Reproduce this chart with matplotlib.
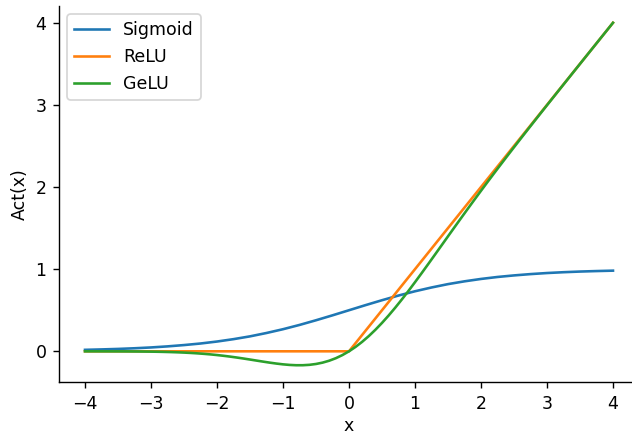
import matplotlib
matplotlib.use('Agg')
import matplotlib.pyplot as plt

# values
x_sigmoid = [-4.0, -3.75, -3.5, -3.25, -3.0, -2.75, -2.5, -2.25, -2.0, -1.75,
             -1.5, -1.25, -1.0, -0.75, -0.5, -0.25, 0.0, 0.25, 0.5, 0.75, 1.0,
             1.25, 1.5, 1.75, 2.0, 2.25, 2.5, 2.75, 3.0, 3.25, 3.5, 3.75, 4.0]
sigmoid = [0.018, 0.023, 0.029, 0.037, 0.047, 0.060, 0.076, 0.095, 0.119,
           0.148, 0.182, 0.223, 0.269, 0.321, 0.378, 0.438, 0.500, 0.562,
           0.622, 0.679, 0.731, 0.777, 0.818, 0.852, 0.881, 0.905, 0.924,
           0.940, 0.953, 0.963, 0.971, 0.977, 0.982]

x_relu = [-4.0, 0.0, 4.0]
relu = [0.0, 0.0, 4.0]

x_gelu = [-4.0, -3.9, -3.8, -3.7, -3.6, -3.5, -3.4, -3.3, -3.2, -3.1,
          -3.0, -2.9, -2.8, -2.7, -2.6, -2.5, -2.4, -2.3, -2.2, -2.1,
          -2.0, -1.9, -1.8, -1.7, -1.6, -1.5, -1.4, -1.3, -1.2, -1.1,
          -1.0, -0.9, -0.8, -0.7, -0.6, -0.5, -0.4, -0.3, -0.2, -0.1,
          0.0, 0.1, 0.2, 0.3, 0.4, 0.5, 0.6, 0.7, 0.8, 0.9,
          1.0, 1.1, 1.2, 1.3, 1.4, 1.5, 1.6, 1.7, 1.8, 1.9,
          2.0, 2.1, 2.2, 2.3, 2.4, 2.5, 2.6, 2.7, 2.8, 2.9,
          3.0, 3.1, 3.2, 3.3, 3.4, 3.5, 3.6, 3.7, 3.8, 3.9, 4.0]
gelu = [-0.0001, -0.0002, -0.0003, -0.0004, -0.0006, -0.0008, -0.0011,
        -0.0016, -0.0022, -0.0030, -0.0040, -0.0054, -0.0072, -0.0094,
        -0.0121, -0.0155, -0.0197, -0.0247, -0.0306, -0.0375, -0.0455,
        -0.0546, -0.0647, -0.0758, -0.0877, -0.1002, -0.1131, -0.1258,
        -0.1381, -0.1492, -0.1587, -0.1657, -0.1695, -0.1694, -0.1646,
        -0.1543, -0.1378, -0.1146, -0.0841, -0.0460, 0.0,
        0.0540, 0.1159, 0.1854, 0.2622, 0.3457, 0.4354, 0.5306, 0.6305,
        0.7343, 0.8413, 0.9508, 1.0619, 1.1742, 1.2869, 1.3998, 1.5123,
        1.6242, 1.7353, 1.8454, 1.9545, 2.0625, 2.1694, 2.2753, 2.3803,
        2.4845, 2.5879, 2.6906, 2.7928, 2.8946, 2.9960, 3.0970, 3.1978,
        3.2984, 3.3989, 3.4992, 3.5994, 3.6996, 3.7997, 3.8998, 3.9999]

fig = plt.figure(figsize=(632 / 125, 434 / 125), dpi=125)
ax = fig.add_axes([0.0927, 0.119, 0.919, 0.868])

ax.plot(x_sigmoid, sigmoid, label='Sigmoid')
ax.plot(x_relu, relu, label='ReLU')
ax.plot(x_gelu, gelu, label='GeLU')

ax.set_xlabel('x', labelpad=2.5)
ax.set_ylabel('Act(x)')
ax.legend(loc='upper left')
ax.spines['top'].set_visible(False)
ax.spines['right'].set_visible(False)

plt.savefig('out.png', dpi=125)
plt.close()
